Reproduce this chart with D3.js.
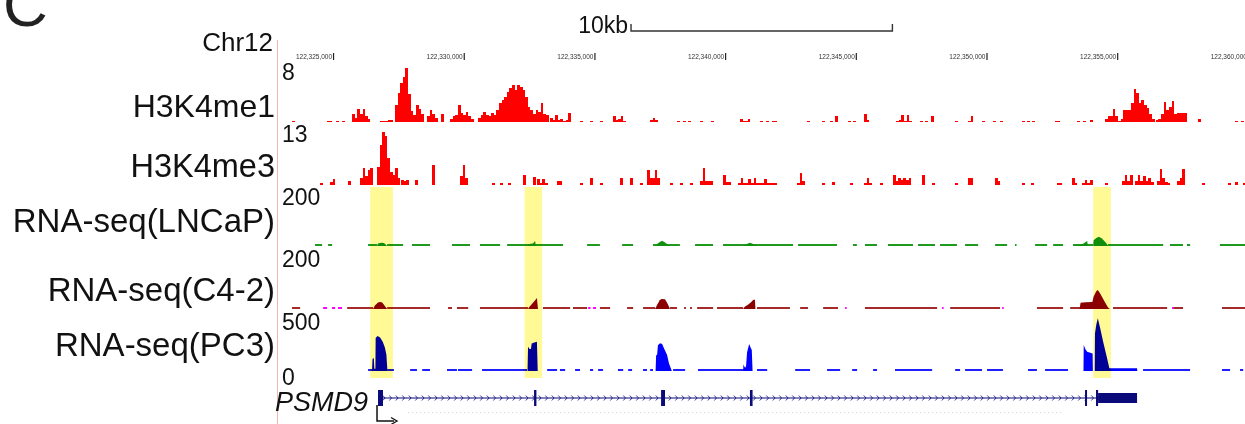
<!DOCTYPE html>
<html lang="en">
<head>
<meta charset="UTF-8" />
<title>PSMD9 locus</title>
<style>
  body { margin: 0; background: #fff; }
  svg { display: block; font-family: "Liberation Sans", Arial, sans-serif; }
</style>
</head>
<body>
<svg id="svg" width="1245" height="424"></svg>
<script src="https://cdn.jsdelivr.net/npm/d3@7"></script>
<script>
const WIDTH = 1245;
const HEIGHT = 424;
const ORIGIN = 122320000; // every position below is kb from chr12:122,320,000
const BIN = 0.1; // kb per ChIP bin

const tickKb = [5, 10, 15, 20, 25, 30, 35, 40];
const scaleBarKb = [16.4, 26.4];
const highlightsKb = [[6.42, 7.29], [12.33, 13.0], [34.08, 34.76]];

const trackNames = ["H3K4me1", "H3K4me3", "RNA-seq(LNCaP)", "RNA-seq(C4-2)", "RNA-seq(PC3)"];
const trackMax = [8, 13, 200, 200, 500];

// ChIP-seq coverage: [startKb, [value of each 0.1 kb bin]]
const me1 = [
  [3.43, [0.2]], [4.77, [0.2, 0.2]], [5.11, [0.2]], [5.34, [0.2]],
  [5.73, [1.2, 0.6, 1.9, 1.2, 1.8, 0.8, 0.5]],
  [6.80, [0.2, 0.2, 0.2, 0.3, 0.3]],
  [7.37, [2.4, 4.2, 5.6, 6.4, 7.7, 4.0, 1.6, 1.0, 2.4, 1.8, 1.2]],
  [8.60, [0.8, 1.7, 1.2, 0.6]], [9.13, [1.2]],
  [9.48, [0.5, 0.8, 1.0, 2.4, 1.3, 1.0, 1.4, 0.8, 0.5]],
  [10.55, [0.6, 1.0, 1.4, 1.0, 0.8, 1.3, 1.0, 1.7, 2.7, 3.2, 3.6, 4.3, 4.8, 5.3, 4.6, 5.3, 5.0, 4.6, 3.6, 2.2, 1.7, 1.2, 1.7, 1.5, 2.7, 1.2, 1.0]],
  [13.30, [0.6, 0.3, 1.0, 0.3, 0.4, 0.2, 0.3, 1.3]],
  [14.45, [0.2]], [14.83, [0.2]], [15.21, [0.2]],
  [15.71, [0.9, 0.3, 0.4, 0.9, 0.2]],
  [17.13, [0.3, 0.6, 0.3]],
  [18.16, [0.2]], [18.39, [0.2]], [18.58, [0.2]], [19.04, [0.2]], [19.46, [0.2]],
  [20.57, [0.5, 0.2, 0.2, 0.4]],
  [21.33, [0.2]], [21.57, [0.2]], [21.80, [0.2, 0.2]],
  [23.14, [0.2]], [23.71, [0.2]], [24.02, [0.2]], [24.21, [0.8]],
  [24.70, [0.2]], [24.89, [0.2]], [25.31, [1.2, 0.3]],
  [26.54, [0.2, 0.3, 1.0, 0.2, 1.0, 0.2]],
  [27.46, [0.2]], [27.65, [0.2]], [27.88, [0.8]],
  [28.80, [0.2]], [29.30, [0.2, 0.8]], [29.83, [0.2]], [30.25, [0.2]], [30.52, [0.2]],
  [31.36, [0.2]], [31.55, [0.2]], [31.74, [0.2]],
  [32.62, [0.2, 0.2]], [33.47, [0.2]], [33.70, [0.2]], [33.96, [0.3]],
  [34.53, [0.5, 0.8, 0.8, 1.8, 0.8, 0.2, 0.4, 1.7, 1.7, 1.7, 2.7, 4.7, 4.1, 2.7, 3.1, 2.4, 2.0, 1.2, 0.5]],
  [36.48, [0.3, 0.5, 1.2, 2.9, 1.7, 2.2, 3.0, 1.2, 1.3, 1.3, 1.3, 1.3]],
  [38.09, [0.5]], [39.51, [0.2]], [39.74, [0.2]]
];

const me3 = [
  [4.50, [0.4]], [4.88, [0.6, 1.3]], [5.57, [0.8]],
  [6.03, [1.5, 3.7, 2.0, 3.4, 3.7]],
  [6.68, [4, 9, 11.9, 11, 6, 3, 2.2, 3.8, 1.5]],
  [7.60, [1.2, 1.0, 1.2]], [8.14, [1.2]], [8.79, [4.5]],
  [9.86, [2.0, 4.5, 1.5]],
  [11.08, [0.4]], [11.39, [0.4]], [11.70, [0.4]],
  [12.27, [2.2]], [12.65, [1.9]], [12.81, [1.3, 0.5, 1.3, 0.5]],
  [13.57, [0.8, 0.8]],
  [14.45, [0.4]], [14.83, [1.5]], [15.21, [0.4]],
  [15.98, [1.5]], [16.36, [1.5]], [16.74, [0.4]],
  [17.01, [3.4, 1.5, 1.5, 3.4, 1.5]],
  [17.89, [0.4]], [18.27, [0.4]], [18.66, [0.4]],
  [19.04, [1.0, 3.7, 1.0, 0.8, 0.8]],
  [19.92, [2.2, 0.6, 0.6]],
  [20.49, [0.5, 1.5, 0.5, 0.5, 1.3, 0.5, 1.5, 0.5, 0.5, 0.4, 1.3, 0.5, 0.4, 0.4, 0.5]],
  [22.75, [0.5, 2.6, 0.8]],
  [23.71, [0.4]], [24.09, [0.6]],
  [24.78, [0.4]], [25.31, [0.5, 1.5, 0.4]], [25.93, [0.4]],
  [26.42, [2.2, 1.0, 1.5, 1.2, 1.5, 1.2, 1.5]],
  [27.53, [2.2]], [27.92, [0.4]], [28.80, [0.4]],
  [29.30, [1.5, 1.5]], [30.33, [1.5, 0.8]],
  [31.36, [0.4]], [31.70, [0.4]], [32.70, [0.4, 0.4]],
  [33.27, [1.5, 0.5]], [33.66, [0.5, 1.1, 0.5, 1.1]],
  [34.54, [0.4]],
  [35.19, [1.0, 2.2, 1.0, 2.2]],
  [35.69, [1.0, 2.2, 0.8, 2.0, 0.8, 1.5, 0.6]],
  [36.53, [1.0, 3.5, 1.5]], [36.83, [0.6, 0.4]],
  [37.29, [1.0, 1.5, 3.5]],
  [38.25, [0.4]], [39.24, [0.4]], [39.51, [0.6]], [39.82, [0.4]]
];

// RNA-seq: low coverage stretches [startKb, endKb] and peaks as [kb, reads] outlines
const lncapLow = [[4.31, 4.58], [4.81, 4.96], [6.34, 6.68], [7.07, 7.68], [8.02, 8.71], [9.55, 10.24], [10.62, 11.39], [11.66, 12.54], [12.73, 13.80], [14.72, 15.21], [16.06, 16.48], [17.24, 18.27], [18.85, 19.54], [19.92, 22.60], [22.79, 24.28], [24.89, 25.04], [25.35, 25.81], [26.23, 27.19], [27.38, 28.03], [28.22, 28.87], [29.18, 29.68], [30.33, 30.79], [31.09, 31.15], [31.86, 32.32], [32.55, 32.93], [33.31, 34.08], [34.65, 36.76], [37.02, 37.52], [37.67, 37.79], [38.93, 39.89]];
const lncapPeaks = [
  [[6.68, 0], [6.72, 9], [6.84, 11], [6.95, 10], [7.07, 0]],
  [[12.46, 0], [12.50, 7], [12.65, 9], [12.73, 17], [12.76, 0]],
  [[17.38, 0], [17.40, 8], [17.45, 10], [17.50, 14], [17.59, 18], [17.70, 12], [17.80, 5], [17.89, 0]],
  [[20.65, 0], [20.80, 6], [20.95, 11], [21.05, 8], [21.15, 3], [21.25, 0]],
  [[33.31, 0], [33.50, 3], [33.70, 8], [33.85, 17], [33.88, 0]],
  [[34.08, 0], [34.10, 20], [34.20, 28], [34.30, 32], [34.40, 27], [34.50, 18], [34.60, 8], [34.66, 0]]
];

const c42Low = [[3.43, 3.74], [5.54, 6.53], [7.07, 8.71], [9.40, 9.55], [9.74, 10.17], [10.62, 12.46], [13.03, 14.07], [14.18, 14.72], [15.21, 15.60], [16.25, 16.48], [16.86, 17.32], [17.89, 18.16], [18.43, 18.50], [18.66, 18.73], [18.93, 19.54], [19.69, 20.69], [21.22, 22.48], [22.87, 23.17], [23.75, 24.32], [25.35, 28.11], [28.61, 30.52], [31.93, 32.93], [33.20, 33.58], [34.84, 36.91], [37.14, 37.52], [39.01, 39.89]];
const c42Neg = [[4.62, 4.77], [4.96, 5.08], [5.19, 5.34], [14.76, 14.85], [14.95, 15.06], [24.59, 24.65], [28.30, 28.36], [30.60, 30.66], [37.10, 37.16]];
const c42Peaks = [
  [[6.53, 0], [6.60, 12], [6.72, 22], [6.80, 24], [6.88, 22], [6.98, 10], [7.07, 0]],
  [[12.46, 0], [12.50, 6], [12.60, 16], [12.70, 26], [12.80, 37], [12.84, 0]],
  [[17.32, 0], [17.40, 14], [17.50, 30], [17.56, 34], [17.70, 33], [17.80, 18], [17.89, 0]],
  [[20.69, 0], [20.75, 8], [20.90, 16], [21.00, 24], [21.08, 31], [21.14, 31], [21.16, 0]],
  [[33.56, 0], [33.60, 21], [33.80, 23], [34.05, 24], [34.10, 42], [34.20, 60], [34.26, 64], [34.36, 51], [34.50, 28], [34.65, 5], [34.72, 0]]
];

const pc3Low = [[6.34, 6.53], [7.07, 7.33], [7.95, 8.21], [8.41, 8.71], [9.36, 9.74], [9.78, 10.32], [10.70, 12.42], [13.19, 13.57], [13.68, 13.88], [14.26, 14.45], [14.83, 14.95], [15.14, 15.33], [15.90, 16.10], [16.29, 16.44], [16.86, 17.01], [17.13, 17.24], [18.01, 18.47], [18.96, 20.76], [21.22, 21.61], [22.68, 23.25], [23.90, 24.40], [24.86, 25.05], [25.66, 25.81], [26.50, 27.92], [28.80, 28.99], [29.18, 29.83], [30.02, 30.63], [31.59, 31.93], [32.24, 33.12], [35.99, 37.79], [39.01, 39.32], [39.70, 39.82]];
const pc3Peaks = [
  [[6.49, 0], [6.51, 110], [6.56, 118], [6.58, 20], [6.62, 20], [6.63, 300], [6.70, 318], [6.80, 305], [6.90, 265], [6.98, 215], [7.04, 150], [7.08, 0]],
  [[12.44, 0], [12.46, 220], [12.52, 200], [12.57, 200], [12.60, 250], [12.70, 258], [12.80, 265], [12.83, 0]],
  [[17.34, 0], [17.36, 140], [17.40, 150], [17.43, 235], [17.51, 252], [17.59, 245], [17.66, 206], [17.78, 145], [17.85, 70], [17.96, 0]],
  [[20.69, 0], [20.70, 60], [20.76, 30], [20.80, 40], [20.84, 170], [20.92, 245], [20.97, 215], [21.02, 190], [21.05, 0]],
  [[33.71, 0], [33.72, 236], [33.78, 200], [33.85, 176], [34.06, 160], [34.07, 0]],
  [[34.14, 0], [34.15, 340], [34.20, 420], [34.26, 480], [34.35, 388], [34.47, 258], [34.60, 130], [34.70, 24], [35.76, 24], [35.77, 0]]
];

// PSMD9 gene model
const geneKb = [6.72, 35.76];
const cdsExonsKb = [[6.72, 6.91], [12.69, 12.78], [17.55, 17.70], [20.95, 21.05], [33.77, 33.84], [34.19, 34.27]];
const utrKb = [[34.27, 35.76]];
const faintTrackKb = [7.87, 32.89];

// ---------- layout ----------
const LABEL_X = 275;
const LAYOUT = [
  { base: 122, top: 66, labelY: 117, maxY: 80, size: 32 },
  { base: 185, top: 127, labelY: 177, maxY: 142, size: 32.5 },
  { base: 246, top: 188, labelY: 232, maxY: 205, size: 33 },
  { base: 309, top: 250, labelY: 301, maxY: 267, size: 33 },
  { base: 371, top: 316, labelY: 356, maxY: 330, size: 33 }
];

const svg = d3.select("#svg");
const x = d3.scaleLinear().domain([2.97, 39.89]).range([280, WIDTH]);
const yScales = LAYOUT.map((l, i) => d3.scaleLinear().domain([0, trackMax[i]]).range([l.base, l.top]));

// panel letter
svg.append("text").attr("x", 3).attr("y", 26).attr("font-size", 62).attr("fill", "#222").text("C");

// left pink rule
svg.append("line").attr("x1", 277.5).attr("x2", 277.5).attr("y1", 40).attr("y2", HEIGHT)
  .attr("stroke", "#f6b3b3").attr("stroke-width", 1);

// scale bar
const sb = svg.append("g").attr("stroke", "#333").attr("stroke-width", 1.4).attr("fill", "none");
sb.append("path").attr("d", `M${x(scaleBarKb[0])},24V31H${x(scaleBarKb[1])}V24`);
svg.append("text").attr("x", x(scaleBarKb[0]) - 3).attr("y", 33).attr("text-anchor", "end")
  .attr("font-size", 23).attr("fill", "#111").text((scaleBarKb[1] - scaleBarKb[0]) + "kb");

// chromosome label and coordinate axis
svg.append("text").attr("x", 273).attr("y", 51).attr("text-anchor", "end")
  .attr("font-size", 26).attr("fill", "#111").text("Chr12");

const axis = d3.axisTop(x).tickValues(tickKb).tickSize(7)
  .tickFormat(d => d3.format(",")(ORIGIN + d * 1000));
const axisG = svg.append("g").attr("transform", "translate(0,60)").call(axis);
axisG.select(".domain").remove();
axisG.selectAll(".tick line").attr("stroke", "#222").attr("stroke-width", 1.2);
axisG.selectAll(".tick text").attr("text-anchor", "end").attr("x", -1.5).attr("y", -1.5)
  .attr("dy", 0).attr("font-size", 6.5).attr("fill", "#333").attr("font-family", "Liberation Sans, Arial");

// track labels and scale maxima
trackNames.forEach((name, i) => {
  svg.append("text").attr("x", LABEL_X).attr("y", LAYOUT[i].labelY).attr("text-anchor", "end")
    .attr("font-size", LAYOUT[i].size).attr("fill", "#111").text(name);
  svg.append("text").attr("x", 282).attr("y", LAYOUT[i].maxY)
    .attr("font-size", 23).attr("fill", "#111").text(trackMax[i]);
});
svg.append("text").attr("x", 282).attr("y", 385).attr("font-size", 23).attr("fill", "#111").text(0);

// ChIP bars
function drawBins(clusters, y, color) {
  const bars = clusters.flatMap(([s, vals]) => vals.map((v, i) => ({ x0: s + i * BIN, x1: s + (i + 1) * BIN, v })));
  svg.append("g").attr("fill", color).attr("shape-rendering", "crispEdges")
    .selectAll("rect").data(bars).join("rect")
    .attr("x", d => x(d.x0))
    .attr("width", d => Math.max(1, x(d.x1) - x(d.x0)))
    .attr("y", d => Math.min(y(d.v), y(0) - 1.5))
    .attr("height", d => Math.max(1.5, y(0) - y(d.v)));
}
drawBins(me1, yScales[0], "#ff0000");
drawBins(me3, yScales[1], "#ff0000");

// RNA-seq tracks
function drawLow(segs, y, color, h) {
  svg.append("g").attr("fill", color)
    .selectAll("rect").data(segs).join("rect")
    .attr("x", d => x(d[0])).attr("width", d => Math.max(1, x(d[1]) - x(d[0])))
    .attr("y", y(0) - h).attr("height", h);
}
function drawPeaks(peaks, y, color) {
  const area = d3.area().x(d => x(d[0])).y0(y(0)).y1(d => y(d[1]));
  svg.append("g").attr("fill", color)
    .selectAll("path").data(peaks).join("path").attr("d", area);
}
drawLow(lncapLow, yScales[2], "#1f9a1f", 2);
drawPeaks(lncapPeaks, yScales[2], "#109010");
drawLow(c42Low, yScales[3], "#a52a2a", 2);
drawLow(c42Neg, yScales[3], "#ff00ff", 2);
drawPeaks(c42Peaks, yScales[3], "#8b0000");
drawLow(pc3Low, yScales[4], "#1f1fff", 2);
drawPeaks(pc3Peaks, yScales[4], "#0000ff");

// highlighted exons (multiplied over the tracks)
svg.append("g")
  .selectAll("rect").data(highlightsKb).join("rect")
  .attr("x", d => x(d[0])).attr("width", d => x(d[1]) - x(d[0]))
  .attr("y", 187).attr("height", 191)
  .attr("fill", "#fffa96").style("mix-blend-mode", "multiply");

// gene model
const GENE_Y = 398;
const NAVY = "#0a0a7a";
const gene = svg.append("g");
gene.append("line").attr("x1", x(geneKb[0])).attr("x2", x(geneKb[1]))
  .attr("y1", GENE_Y).attr("y2", GENE_Y).attr("stroke", NAVY).attr("stroke-width", 1.2);
const chevrons = d3.range(x(geneKb[0]) + 6, x(geneKb[1]) - 4, 6.5);
gene.append("g").attr("stroke", NAVY).attr("stroke-width", 0.8).attr("fill", "none")
  .selectAll("path").data(chevrons).join("path")
  .attr("d", d => `M${d - 1.2},${GENE_Y - 2.5}L${d + 1},${GENE_Y}L${d - 1.2},${GENE_Y + 2.5}`);
gene.append("g").attr("fill", NAVY)
  .selectAll("rect").data(cdsExonsKb).join("rect")
  .attr("x", d => x(d[0])).attr("width", d => Math.max(2, x(d[1]) - x(d[0])))
  .attr("y", GENE_Y - 8).attr("height", 16);
gene.append("g").attr("fill", NAVY)
  .selectAll("rect").data(utrKb).join("rect")
  .attr("x", d => x(d[0])).attr("width", d => x(d[1]) - x(d[0]))
  .attr("y", GENE_Y - 5).attr("height", 10);
svg.append("text").attr("x", 368).attr("y", 411).attr("text-anchor", "end")
  .attr("font-size", 27).attr("font-style", "italic").attr("fill", "#111").text("PSMD9");

// transcription start arrow
const tss = x(geneKb[0]) - 1;
svg.append("path").attr("d", `M${tss},${GENE_Y + 7}V421H${tss + 17}`)
  .attr("stroke", "#111").attr("stroke-width", 1.5).attr("fill", "none");
svg.append("path").attr("d", `M${tss + 14},417.5L${tss + 20},421L${tss + 14},424.5`)
  .attr("stroke", "#111").attr("stroke-width", 1.3).attr("fill", "none");

// faint track under the gene
svg.append("line").attr("x1", x(faintTrackKb[0])).attr("x2", x(faintTrackKb[1]))
  .attr("y1", 412.5).attr("y2", 412.5).attr("stroke", "#d8d8d8").attr("stroke-width", 1)
  .attr("stroke-dasharray", "1,3");
</script>
</body>
</html>
